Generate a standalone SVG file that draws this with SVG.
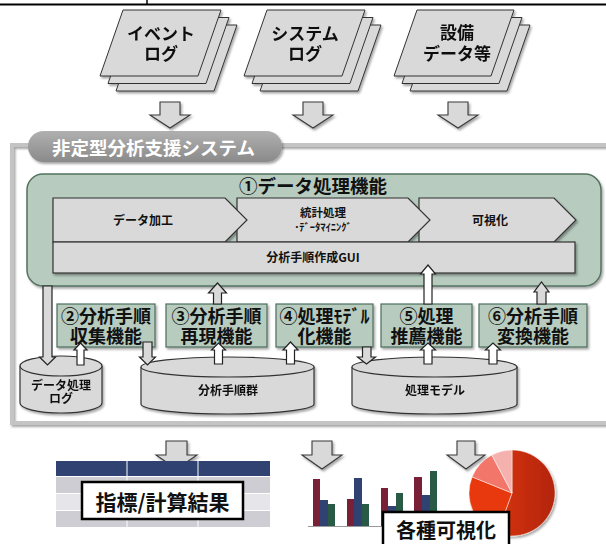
<svg xmlns="http://www.w3.org/2000/svg" width="606" height="544" viewBox="0 0 606 544">
  <style>
    .jp { font-family: "Noto Sans CJK JP", "Noto Sans", sans-serif; font-weight: 700; fill: #111; }
    .sheet { fill: #d9d9d9; stroke: #333; stroke-width: 1; }
    .bigarrow { fill: #d9d9d9; stroke: #3a3a3a; stroke-width: 1.1; }
    .garrow { fill: #d9d9d9; stroke: #222; stroke-width: 1.2; }
    .warrow { fill: #ffffff; stroke: #222; stroke-width: 1.2; }
    .func { fill: #b7cbbf; stroke: #4d6e5e; stroke-width: 1.2; }
    .panel { fill: #d9d9d9; stroke: #333; stroke-width: 1.2; }
    .cyl { fill: #d9d9d9; stroke: #333; stroke-width: 1.2; }
    .label { fill: #ffffff; stroke: #000; stroke-width: 2.5; }
  </style>
  <defs>
    <filter id="shadow" x="-10%" y="-10%" width="130%" height="140%">
      <feDropShadow dx="1.5" dy="2" stdDeviation="1.2" flood-color="#000" flood-opacity="0.35"/>
    </filter>
    <linearGradient id="tabFill" x1="0" y1="0" x2="0" y2="1">
      <stop offset="0" stop-color="#b0b0b0"/>
      <stop offset="1" stop-color="#8a8a8a"/>
    </linearGradient>
    <linearGradient id="pieMain" x1="0" y1="0" x2="1" y2="0">
      <stop offset="0" stop-color="#d6330f"/>
      <stop offset="1" stop-color="#b22507"/>
    </linearGradient>
  </defs>

  <!-- page rule at the very top -->
  <g id="page-rule">
    <line x1="0" y1="4.5" x2="606" y2="4.5" stroke="#000" stroke-width="2"/>
    <line x1="147" y1="0" x2="147" y2="4.5" stroke="#000" stroke-width="1.5"/>
  </g>

  <!-- input data sources -->
  <g id="src-event" filter="url(#shadow)">
    <polygon class="sheet" points="139,25 237,25 214,91 116,91"/>
    <polygon class="sheet" points="131,17.5 229,17.5 206,83.5 108,83.5"/>
    <polygon class="sheet" points="123,10 221,10 198,76 100,76"/>
    <text class="jp" font-size="17" text-anchor="middle"><tspan x="161" y="39.5">イベント</tspan><tspan x="161" y="59.5">ログ</tspan></text>
  </g>
  <g id="src-system" filter="url(#shadow)">
    <polygon class="sheet" points="283,25 381,25 358,91 260,91"/>
    <polygon class="sheet" points="275,17.5 373,17.5 350,83.5 252,83.5"/>
    <polygon class="sheet" points="267,10 365,10 342,76 244,76"/>
    <text class="jp" font-size="17" text-anchor="middle"><tspan x="305" y="39.5">システム</tspan><tspan x="305" y="59.5">ログ</tspan></text>
  </g>
  <g id="src-equipment" filter="url(#shadow)">
    <polygon class="sheet" points="433,25 530,25 507,91 410,91"/>
    <polygon class="sheet" points="425,17.5 522,17.5 499,83.5 402,83.5"/>
    <polygon class="sheet" points="417,10 514,10 491,76 394,76"/>
    <text class="jp" font-size="17" text-anchor="middle"><tspan x="457" y="38.5">設備</tspan><tspan x="457" y="59.5">データ等</tspan></text>
  </g>

  <!-- system frame -->
  <g id="system-frame">
    <rect x="12" y="145" width="620" height="278" fill="none" stroke="#c4c4c4" stroke-width="4" filter="url(#shadow)"/>
    <rect x="28" y="131" width="254" height="31" rx="15.5" fill="url(#tabFill)" filter="url(#shadow)"/>
    <text class="jp" x="52" y="154.5" font-size="18.5" style="fill:#fff">非定型分析支援システム</text>
  </g>

  <!-- (1) data processing block -->
  <g id="data-processing">
    <rect x="27" y="174" width="574" height="112" rx="16" fill="#b7cbbf" stroke="#52735f" stroke-width="1.5" filter="url(#shadow)"/>
    <text class="jp" x="313" y="193" font-size="18.5" text-anchor="middle">①データ処理機能</text>
    <g filter="url(#shadow)">
      <polygon class="panel" points="419,198 554,198 576,220 554,242 419,242"/>
      <polygon class="panel" points="237,198 408,198 430,220 408,242 237,242"/>
      <polygon class="panel" points="53,198 225,198 247,220 225,242 53,242"/>
      <rect class="panel" x="53" y="242" width="522" height="31"/>
    </g>
    <text class="jp" x="143" y="224.5" font-size="12" text-anchor="middle">データ加工</text>
    <text class="jp" text-anchor="middle"><tspan x="323" y="217" font-size="11.5">統計処理</tspan><tspan x="323" y="230.5" font-size="10.5">･ﾃﾞｰﾀﾏｲﾆﾝｸﾞ</tspan></text>
    <text class="jp" x="490" y="224.5" font-size="12" text-anchor="middle">可視化</text>
    <text class="jp" x="313" y="262" font-size="12" text-anchor="middle">分析手順作成GUI</text>
  </g>

  <!-- function boxes (2)-(6) -->
  <g id="fn-collect">
    <rect class="func" x="57" y="304" width="98" height="43" filter="url(#shadow)"/>
    <text class="jp" font-size="18" text-anchor="middle"><tspan x="106" y="322.5">②分析手順</tspan><tspan x="106" y="342.5">収集機能</tspan></text>
  </g>
  <g id="fn-reproduce">
    <rect class="func" x="166" y="304" width="101" height="43" filter="url(#shadow)"/>
    <text class="jp" font-size="18" text-anchor="middle"><tspan x="216.5" y="322.5">③分析手順</tspan><tspan x="216.5" y="342.5">再現機能</tspan></text>
  </g>
  <g id="fn-model">
    <rect class="func" x="276" y="304" width="97" height="43" filter="url(#shadow)"/>
    <text class="jp" font-size="18" text-anchor="middle"><tspan x="324.5" y="322.5">④処理ﾓﾃﾞﾙ</tspan><tspan x="324.5" y="342.5">化機能</tspan></text>
  </g>
  <g id="fn-recommend">
    <rect class="func" x="381" y="304" width="91" height="43" filter="url(#shadow)"/>
    <text class="jp" font-size="18" text-anchor="middle"><tspan x="426.5" y="322.5">⑤処理</tspan><tspan x="426.5" y="342.5">推薦機能</tspan></text>
  </g>
  <g id="fn-convert">
    <rect class="func" x="479" y="304" width="108" height="43" filter="url(#shadow)"/>
    <text class="jp" font-size="18" text-anchor="middle"><tspan x="533" y="322.5">⑥分析手順</tspan><tspan x="533" y="342.5">変換機能</tspan></text>
  </g>

  <!-- stores -->
  <g id="store-log" filter="url(#shadow)">
    <path class="cyl" d="M20,366 V403 A41,10 0 0 0 102,403 V366"/>
    <ellipse class="cyl" cx="61" cy="366" rx="41" ry="10"/>
    <text class="jp" font-size="12" text-anchor="middle"><tspan x="61" y="389.5">データ処理</tspan><tspan x="61" y="402.5">ログ</tspan></text>
  </g>
  <g id="store-procedures" filter="url(#shadow)">
    <path class="cyl" d="M141,367 V404 A86.5,10 0 0 0 314,404 V367"/>
    <ellipse class="cyl" cx="227.5" cy="367" rx="86.5" ry="10"/>
    <text class="jp" x="228" y="395" font-size="12" text-anchor="middle">分析手順群</text>
  </g>
  <g id="store-models" filter="url(#shadow)">
    <path class="cyl" d="M352,367 V404 A82.5,10 0 0 0 517,404 V367"/>
    <ellipse class="cyl" cx="434.5" cy="367" rx="82.5" ry="10"/>
    <text class="jp" x="435" y="395" font-size="12" text-anchor="middle">処理モデル</text>
  </g>

  <!-- connectors -->
  <g id="connectors">
    <!-- sources into the system -->
    <path class="bigarrow" filter="url(#shadow)" d="M160,102 H180 V115 H190 L170,128 L150,115 H160 Z"/>
    <path class="bigarrow" filter="url(#shadow)" d="M303,102 H323 V115 H333 L313,128 L293,115 H303 Z"/>
    <path class="bigarrow" filter="url(#shadow)" d="M448,102 H468 V115 H478 L458,128 L438,115 H448 Z"/>

    <!-- processing log / procedure flow -->
    <path class="garrow" d="M43,286 H52 V357 H55.5 L47.5,365 L39.5,357 H43 Z"/>
    <path class="warrow" d="M77,365 V350 H74 L80.5,343 L87,350 H84 V365 Z"/>
    <path class="garrow" d="M143,342 H152 V357 H155.5 L147.5,365 L139.5,357 H143 Z"/>
    <path class="warrow" d="M214.5,364 V350 H211.5 L218.5,343 L225.5,350 H222.5 V364 Z"/>
    <path class="garrow" d="M213.5,304 V293 H208.5 L217.5,283 L226.5,293 H221.5 V304 Z"/>
    <path class="warrow" d="M286.5,364 V350 H283 L290.5,342 L298,350 H294.5 V364 Z"/>
    <path class="garrow" d="M362.5,347 H371 V357 H375.5 L366.5,364 L357.5,357 H362.5 Z"/>
    <path class="warrow" d="M424,364 V350 H420.5 L428,343 L435.5,350 H432 V364 Z"/>
    <path class="warrow" d="M424,304 V274 H420.5 L428,265 L435.5,274 H432 V304 Z"/>
    <path class="warrow" d="M489,364 V350 H485.5 L493,343 L500.5,350 H497 V364 Z"/>
    <path class="garrow" d="M537,304 V292 H534 L541.5,282 L549,292 H546 V304 Z"/>

    <!-- results out of the system -->
    <path class="bigarrow" filter="url(#shadow)" d="M166,441 H187 V455 H197 L176.5,469 L156,455 H166 Z"/>
    <path class="bigarrow" filter="url(#shadow)" d="M312,441 H332 V455 H342 L322,469 L302,455 H312 Z"/>
    <path class="bigarrow" filter="url(#shadow)" d="M457,441 H475 V455 H485 L466,469 L447,455 H457 Z"/>
  </g>

  <!-- result table -->
  <g id="result-table">
    <rect x="56" y="461" width="214" height="15" fill="#2f4271"/>
    <rect x="56" y="477" width="214" height="16" fill="#cdcdd3"/>
    <rect x="56" y="494" width="214" height="16" fill="#e6e6ea"/>
    <rect x="56" y="511" width="214" height="16" fill="#cdcdd3"/>
    <line x1="127" y1="461" x2="127" y2="527" stroke="#fff" stroke-width="1"/>
    <line x1="198" y1="461" x2="198" y2="527" stroke="#fff" stroke-width="1"/>
    <rect class="label" x="82" y="482" width="161" height="37"/>
    <text class="jp" x="162.5" y="510" font-size="21" text-anchor="middle">指標/計算結果</text>
  </g>

  <!-- result charts -->
  <g id="result-charts">
    <line x1="308" y1="526.5" x2="440" y2="526.5" stroke="#999" stroke-width="1"/>
    <rect x="313" y="479" width="7" height="47" fill="#7a2036"/>
    <rect x="320" y="500" width="8" height="26" fill="#2f4272"/>
    <rect x="328" y="504" width="7" height="22" fill="#285a45"/>
    <rect x="347" y="499" width="7" height="27" fill="#7a2036"/>
    <rect x="354" y="478" width="8" height="48" fill="#2f4272"/>
    <rect x="362" y="504" width="7" height="22" fill="#285a45"/>
    <rect x="381" y="488" width="7" height="38" fill="#7a2036"/>
    <rect x="388" y="506" width="8" height="20" fill="#2f4272"/>
    <rect x="396" y="493" width="7" height="33" fill="#285a45"/>
    <rect x="414" y="477" width="8" height="49" fill="#7a2036"/>
    <rect x="422" y="495" width="8" height="31" fill="#2f4272"/>
    <rect x="430" y="471" width="7" height="55" fill="#285a45"/>

    <g stroke="#fff" stroke-width="0.5" filter="url(#shadow)">
      <path d="M512,493 L512,450 A43,43 0 1,1 497.3,533.4 Z" fill="url(#pieMain)"/>
      <path d="M512,493 L497.3,533.4 A43,43 0 0,1 472.1,476.9 Z" fill="#e8390f"/>
      <path d="M512,493 L472.1,476.9 A43,43 0 0,1 491.8,455 Z" fill="#f2766a"/>
      <path d="M512,493 L491.8,455 A43,43 0 0,1 512,450 Z" fill="#f5b1ae"/>
    </g>

    <rect class="label" x="383" y="512" width="126" height="40"/>
    <text class="jp" x="446" y="538" font-size="20" text-anchor="middle">各種可視化</text>
  </g>
</svg>
